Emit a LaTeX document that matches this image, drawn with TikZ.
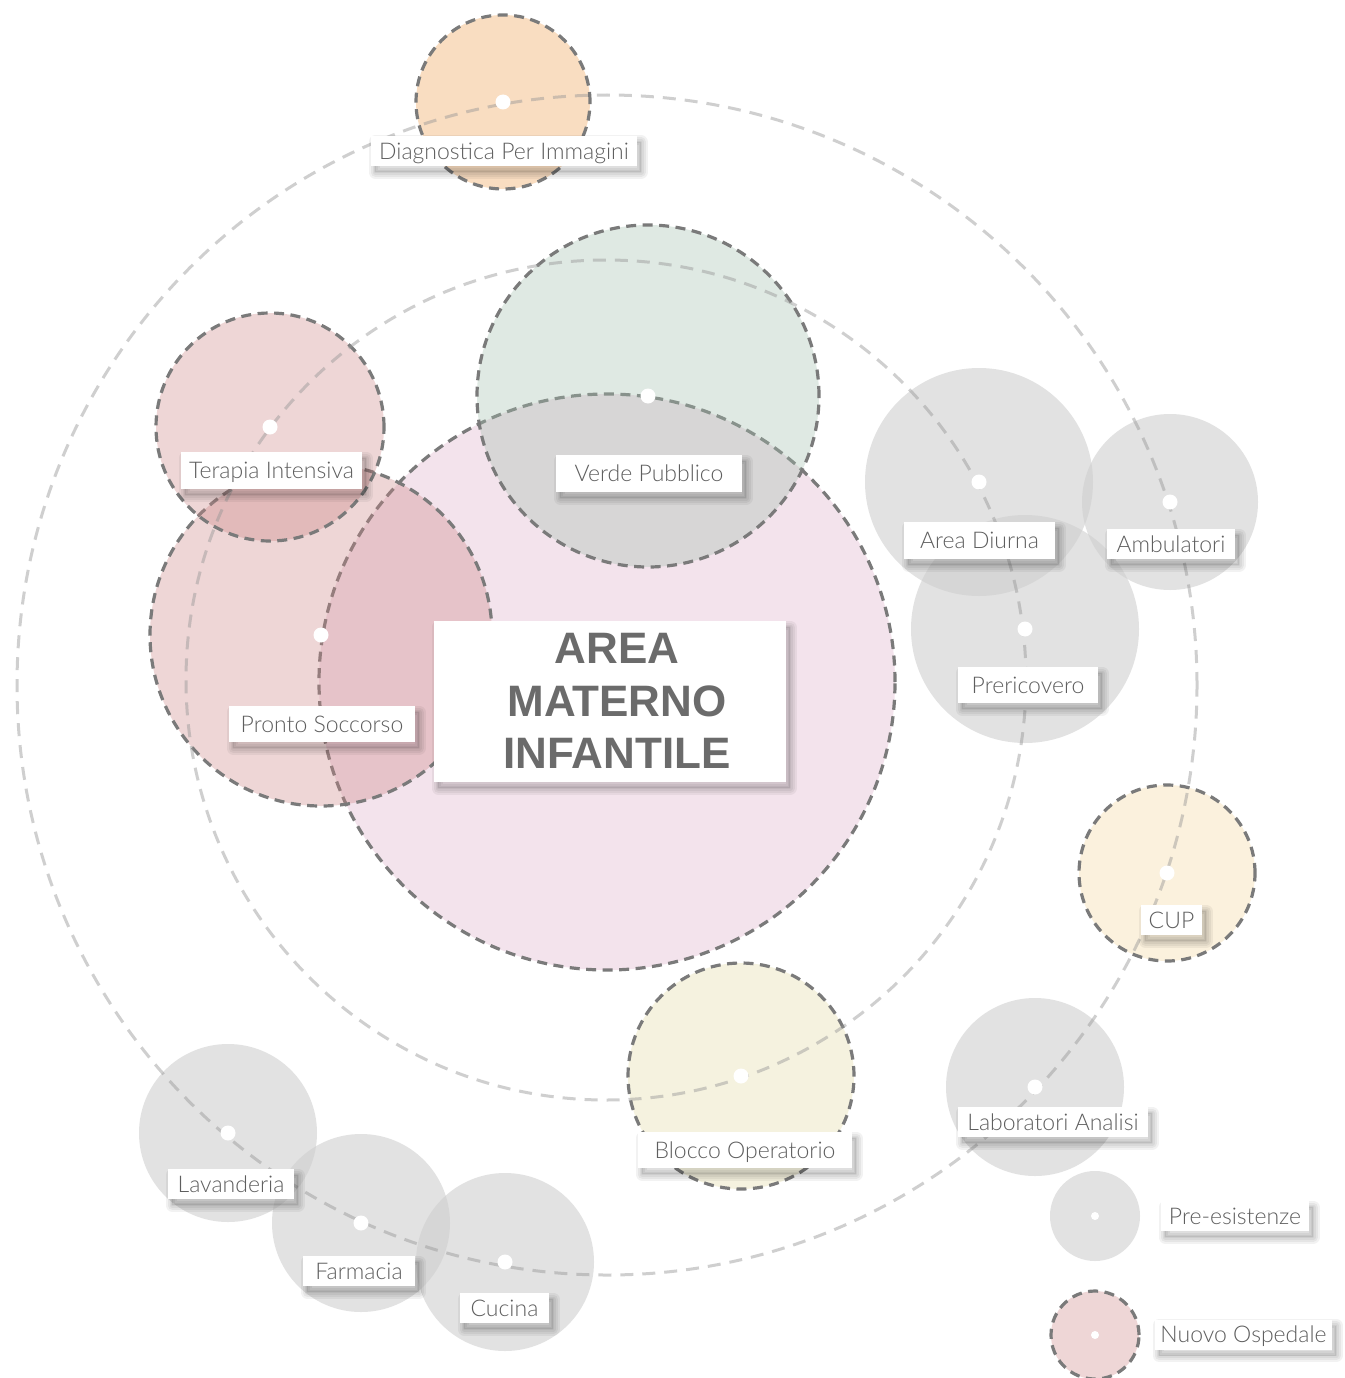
\documentclass[tikz,border=0pt]{standalone}
\usepackage{fontspec}
\IfFontExistsTF{Lato Light}{\newfontfamily\lblfont{Lato Light}}{\newfontfamily\lblfont{Lato}}
\newfontfamily\ttlfont{Liberation Sans}
\definecolor{txtc}{HTML}{5E5E5E}
\definecolor{ttlc}{HTML}{6B6B6B}
\definecolor{bordc}{HTML}{7A7A7A}
\definecolor{orbitc}{RGB}{150,150,150}
\definecolor{oldc}{RGB}{207,207,207}
\definecolor{diac}{RGB}{240,160,80}
\definecolor{verdec}{RGB}{164,192,175}
\definecolor{rosec}{RGB}{204,132,132}
\definecolor{amic}{RGB}{243,227,236}
\definecolor{cupc}{RGB}{240,200,120}
\definecolor{bloc}{RGB}{225,215,150}
\begin{document}
\begin{tikzpicture}[x=1pt,y=-1pt,
  newarea/.style={circle, inner sep=0pt, outer sep=0pt, draw=bordc, line width=3.2pt, dash pattern=on 10pt off 6.5pt},
  oldarea/.style={circle, inner sep=0pt, outer sep=0pt, fill=oldc, fill opacity=0.6},
  orbit/.style={draw=orbitc, draw opacity=0.45, line width=3pt, dash pattern=on 13pt off 9pt},
  dotc/.style={circle, fill=white, inner sep=0pt, minimum size=15pt},
  smalldot/.style={circle, fill=white, inner sep=0pt, minimum size=8pt},
  shlayer/.style={draw=black, draw opacity=0.05, line width=#1, line join=round, transform canvas={shift={(4pt,-6pt)}}},
  softshadow/.style={
    preaction={fill=black, fill opacity=0.08, transform canvas={shift={(4pt,-6pt)}}},
    preaction={shlayer=13pt}, preaction={shlayer=9pt},
    preaction={shlayer=5pt}, preaction={shlayer=1.5pt}},
  lbl/.style={fill=white, softshadow, font=\lblfont\fontsize{23}{27}\selectfont, text=txtc, text height=16.5pt, text depth=0pt, inner sep=0pt},
  ttl/.style={font=\ttlfont\bfseries\fontsize{44}{52}\selectfont, text=ttlc, anchor=base, inner sep=0pt}
]
\useasboundingbox (0,0) rectangle (1344,1378);
\fill[white] (0,0) rectangle (1344,1378);

% existing buildings (grey)
\node[oldarea, minimum size=228pt] (adi) at (979,482) {};
\node[oldarea, minimum size=176pt] (amb) at (1170,502) {};
\node[oldarea, minimum size=228pt] (pre) at (1025,629) {};
\node[oldarea, minimum size=178pt] (lab) at (1035,1087) {};
\node[oldarea, minimum size=178pt] (lav) at (228,1133) {};
\node[oldarea, minimum size=178pt] (far) at (361,1223) {};
\node[oldarea, minimum size=178pt] (cuc) at (505,1262) {};
\node[oldarea, minimum size=90pt] (legold) at (1095,1216) {};

% new hospital areas
\node[newarea, fill=amic, minimum size=576pt] (ami) at (607,682) {};
\node[newarea, fill=verdec, fill opacity=0.35, minimum size=342pt] (ver) at (648,396) {};
\node[newarea, fill=rosec, fill opacity=0.33, minimum size=342pt] (ps) at (321,635) {};
\node[newarea, fill=rosec, fill opacity=0.33, minimum size=228pt] (ter) at (270,427) {};
\node[newarea, fill=diac, fill opacity=0.35, minimum size=174pt] (dia) at (503,102) {};
\node[newarea, fill=cupc, fill opacity=0.25, minimum size=176pt] (cup) at (1167,873) {};
\node[newarea, fill=bloc, fill opacity=0.30, minimum size=226pt] (blo) at (741,1076) {};
\node[newarea, fill=rosec, fill opacity=0.33, minimum size=88pt] (legnew) at (1095,1335) {};

% orbits
\coordinate (outerc) at (607,685);
\coordinate (midc) at (606,680);
\draw[orbit] (outerc) circle[radius=590pt];
\draw[orbit] (midc) circle[radius=420pt];

% centre dots
\foreach \n in {adi,amb,pre,lab,lav,far,cuc,ver,ps,ter,dia,cup,blo}
  \node[dotc] (\n dot) at (\n.center) {};
\node[smalldot] (legolddot) at (legold.center) {};
\node[smalldot] (legnewdot) at (legnew.center) {};

% labels
\node[lbl, minimum width=266pt, minimum height=30pt] (dial) at (504,151) {Diagnostica Per Immagini};
\node[lbl, minimum width=181pt, minimum height=37pt] (terl) at (271.5,470.5) {Terapia Intensiva};
\node[lbl, minimum width=186pt, minimum height=37pt] (verl) at (649,473.5) {Verde Pubblico};
\node[lbl, minimum width=151pt, minimum height=37pt] (adil) at (979.5,540.5) {Area Diurna};
\node[lbl, minimum width=128pt, minimum height=30pt] (ambl) at (1171,544) {Ambulatori};
\node[lbl, minimum width=140pt, minimum height=36pt] (prel) at (1028,685) {Prericovero};
\node[lbl, minimum width=186pt, minimum height=36pt] (psl) at (322,724) {Pronto Soccorso};
\node[lbl, minimum width=61pt, minimum height=30pt] (cupl) at (1171.5,920) {CUP};
\node[lbl, minimum width=214pt, minimum height=36pt] (blol) at (745,1150) {Blocco Operatorio};
\node[lbl, minimum width=190pt, minimum height=30pt] (labl) at (1053,1122) {Laboratori Analisi};
\node[lbl, minimum width=126pt, minimum height=30pt] (lavl) at (231,1184) {Lavanderia};
\node[lbl, minimum width=112pt, minimum height=30pt] (farl) at (359,1271) {Farmacia};
\node[lbl, minimum width=89pt, minimum height=30pt] (cucl) at (504.5,1308) {Cucina};
\node[lbl, minimum width=148pt, minimum height=30pt] (legoldl) at (1235,1216) {Pre-esistenze};
\node[lbl, minimum width=177pt, minimum height=30pt] (legnewl) at (1243.5,1334.5) {Nuovo Ospedale};

% title
\node[fill=white, softshadow, inner sep=0pt, minimum width=352pt, minimum height=161pt] (ttlbox) at (610,701.5) {};
\node[ttl] (ttla) at (617,663) {AREA};
\node[ttl] (ttlb) at (617,716.5) {MATERNO};
\node[ttl] (ttlc) at (617,768) {INFANTILE};
\end{tikzpicture}
\end{document}
